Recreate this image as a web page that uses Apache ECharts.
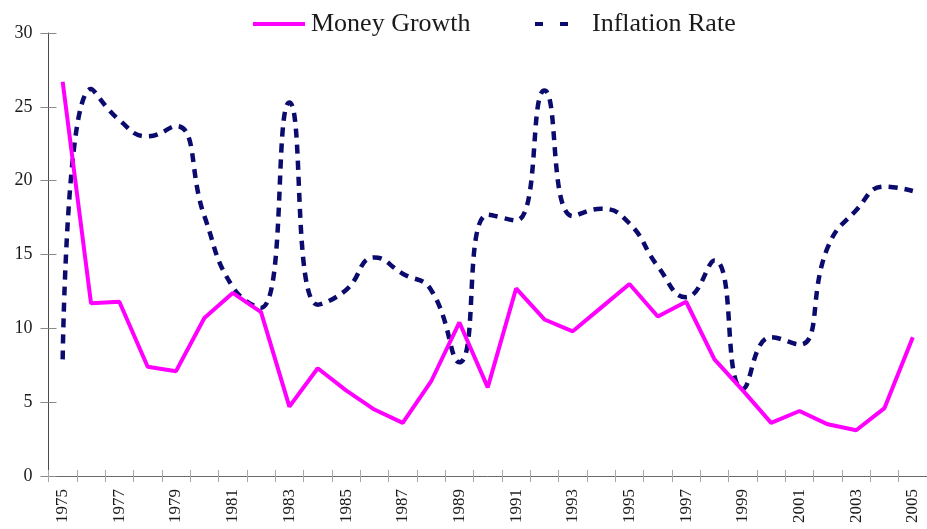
<!DOCTYPE html>
<html>
<head>
<meta charset="utf-8">
<script src="https://cdn.jsdelivr.net/npm/echarts@6/dist/echarts.min.js"></script>
<style>
  html, body { margin: 0; padding: 0; background: #fff; }
  #container { width: 927px; height: 529px; }
</style>
</head>
<body>
<div id="container"></div>
<script>
// years on the x axis
var years = ['1975','1976','1977','1978','1979','1980','1981','1982','1983','1984',
             '1985','1986','1987','1988','1989','1990','1991','1992','1993','1994',
             '1995','1996','1997','1998','1999','2000','2001','2002','2003','2004','2005'];

// values (percent)
var moneyGrowth = [26.7, 11.7, 11.8, 7.4, 7.1, 10.7, 12.4, 11.1, 4.7, 7.3,
                   5.8, 4.5, 3.6, 6.4, 10.4, 6.0, 12.7, 10.6, 9.8, 11.4,
                   13.0, 10.8, 11.8, 7.9, 5.8, 3.6, 4.4, 3.5, 3.1, 4.6, 9.4];
var inflationRate = [7.9, 26.2, 24.1, 23.0, 23.7, 17.6, 12.8, 11.4, 25.3, 11.6,
                     12.6, 14.8, 13.7, 12.6, 7.7, 17.7, 17.3, 26.1, 17.6, 18.1,
                     17.1, 14.2, 12.1, 14.6, 5.9, 9.4, 8.9, 15.5, 18.0, 19.6, 19.3];

var yTicks = { min: 0, max: 30, interval: 5 };

var serif = '"Liberation Serif", "Times New Roman", serif';
var magenta = '#ff00ff';
var navy = '#0b0b6e';

var dom = document.getElementById("container");
var myChart = echarts.init(dom);

var option = {
    animation: false,
    backgroundColor: '#ffffff',
    grid: { left: 48.5, right: -5.5, top: 33, bottom: 53, containLabel: false },
    legend: [
        {
            data: ['Money Growth'],
            left: 248, top: 6,
            icon: 'rect', itemWidth: 52, itemHeight: 4, itemGap: 0,
            textStyle: { fontFamily: serif, fontSize: 26, color: '#1a1a1a', padding: [0, 0, 0, 1] }
        },
        {
            data: ['Inflation Rate'],
            left: 530, top: 6,
            icon: 'path://M0,0h8v4h-8z M25,0h8v4h-8z', itemWidth: 33, itemHeight: 4.5,
            textStyle: { fontFamily: serif, fontSize: 26, color: '#1a1a1a', padding: [0, 0, 0, 19] }
        }
    ],
    xAxis: [
        {
            type: 'category', data: years, boundaryGap: true, position: 'bottom',
            axisLine: { lineStyle: { color: '#6a6a6a', width: 1 } },
            axisTick: { show: true, inside: false, length: 6, interval: 0, lineStyle: { color: '#a8a8a8' } },
            axisLabel: { interval: 1, rotate: 90, margin: 13, fontFamily: serif, fontSize: 17, color: '#1a1a1a' },
            splitLine: { show: false }
        },
        {
            type: 'category', data: years, boundaryGap: true, position: 'bottom', offset: 0,
            axisLine: { show: true, onZero: false, lineStyle: { opacity: 0 } },
            axisTick: { show: true, inside: true, length: 6, interval: 0, lineStyle: { color: '#a8a8a8' } },
            axisLabel: { show: false },
            splitLine: { show: false }
        }
    ],
    yAxis: [
        {
            type: 'value', min: yTicks.min, max: yTicks.max, interval: yTicks.interval, position: 'left',
            axisLine: { show: true, lineStyle: { color: '#4a4a4a', width: 1 } },
            axisTick: { show: true, inside: false, length: 8, lineStyle: { color: '#8a8a8a' } },
            axisLabel: { margin: 16, fontFamily: serif, fontSize: 18, color: '#1a1a1a' },
            splitLine: { show: false }
        },
        {
            type: 'value', min: yTicks.min, max: yTicks.max, interval: yTicks.interval, position: 'left', offset: 0,
            axisLine: { show: true, onZero: false, lineStyle: { opacity: 0 } },
            axisTick: { show: true, inside: true, length: 8, lineStyle: { color: '#8a8a8a' } },
            axisLabel: { show: false },
            splitLine: { show: false }
        }
    ],
    series: [
        {
            name: 'Money Growth',
            type: 'line',
            data: moneyGrowth,
            symbol: 'none',
            smooth: false,
            itemStyle: { color: magenta },
            lineStyle: { color: magenta, width: 4 },
            z: 3
        },
        {
            name: 'Inflation Rate',
            type: 'line',
            data: inflationRate,
            symbol: 'none',
            smooth: 0.5,
            itemStyle: { color: navy },
            lineStyle: { color: navy, width: 4.5, type: [9, 7] },
            z: 2
        }
    ]
};

if (option && typeof option === "object") {
    myChart.setOption(option, true);
}
</script>
</body>
</html>
